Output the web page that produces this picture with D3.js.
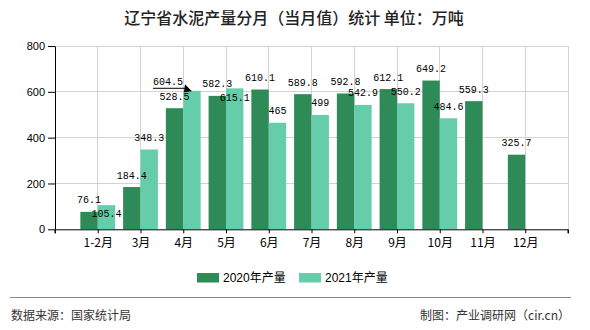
<!DOCTYPE html>
<html>
<head>
<meta charset="utf-8">
<script src="https://cdn.jsdelivr.net/npm/d3@7"></script>
<style>
  html, body { margin: 0; padding: 0; background: #fff; }
  svg { display: block; }
</style>
</head>
<body>
<svg id="chart" width="590" height="330"></svg>
<script>
// ---- data ----
const categories = ["1-2月", "3月", "4月", "5月", "6月", "7月", "8月", "9月", "10月", "11月", "12月"];
const seriesNames = ["2020年产量", "2021年产量"];
const values2020 = [76.1, 184.4, 528.5, 582.3, 610.1, 589.8, 592.8, 612.1, 649.2, 559.3, 325.7];
const values2021 = [105.4, 348.3, 604.5, 615.1, 465, 499, 542.9, 550.2, 484.6, null, null];
const yTicks = [0, 200, 400, 600, 800];
const titleText = "辽宁省水泥产量分月（当月值）统计 单位：万吨";
const sourceText = "数据来源：国家统计局";
const creditText = "制图：产业调研网（cir.cn）";

// ---- layout / style ----
const colors = ["#2e8b57", "#66cdaa"];
const plot = { left: 55, right: 568, top: 46, bottom: 229.3 };
const barW = 17.4;
// label nudges (series index, category index) -> [dx, dy]
const labelNudge = { "1-0": [0, 20], "1-3": [0, 21], "1-2": [-24, 2.5] };

const svg = d3.select("#chart");

const x = d3.scalePoint().domain(categories).range([plot.left, plot.right]).padding(1);
const inner = d3.scaleBand().domain([0, 1]).range([-barW, barW]);
const y = d3.scaleLinear().domain([0, 800]).range([plot.bottom, plot.top]);

// title
svg.append("text")
  .attr("x", 294).attr("y", 24)
  .attr("text-anchor", "middle")
  .attr("font-family", "'Noto Sans CJK SC', sans-serif")
  .attr("font-size", 16).attr("font-weight", 500)
  .attr("fill", "#222")
  .text(titleText);

// grid
const gridX = [plot.left, ...categories.map(c => x(c)), plot.right];
svg.append("g").selectAll("line").data(gridX.slice(1)).join("line")
  .attr("x1", d => d).attr("x2", d => d)
  .attr("y1", plot.top).attr("y2", plot.bottom)
  .attr("stroke", "#d3d3d3").attr("stroke-width", 1).attr("shape-rendering", "crispEdges");
svg.append("g").selectAll("line").data(yTicks.slice(1)).join("line")
  .attr("x1", plot.left).attr("x2", plot.right)
  .attr("y1", d => y(d)).attr("y2", d => y(d))
  .attr("stroke", "#d3d3d3").attr("stroke-width", 1).attr("shape-rendering", "crispEdges");

// bars
const allSeries = [values2020, values2021];
allSeries.forEach((vals, si) => {
  svg.append("g").selectAll("rect")
    .data(categories.map((c, i) => ({ c, v: vals[i] })).filter(d => d.v != null))
    .join("rect")
    .attr("x", d => x(d.c) + inner(si))
    .attr("width", inner.bandwidth())
    .attr("y", d => y(d.v))
    .attr("height", d => y(0) - y(d.v))
    .attr("fill", colors[si]);
});

// axes
const yAxis = svg.append("g")
  .attr("transform", `translate(${plot.left},0)`)
  .call(d3.axisLeft(y).tickValues(yTicks).tickSize(7).tickPadding(3).tickSizeOuter(0));
yAxis.selectAll("text").attr("font-family", "'Liberation Sans', Arial, sans-serif").attr("font-size", 11).attr("fill", "#000");
yAxis.select(".domain").attr("stroke", "#000");
yAxis.selectAll(".tick line").attr("stroke", "#000");

const xAxis = svg.append("g")
  .attr("transform", `translate(0,${plot.bottom})`)
  .call(d3.axisBottom(x).tickSize(4).tickPadding(5).tickSizeOuter(4));
xAxis.selectAll("text").attr("font-family", "'Noto Sans CJK SC', sans-serif").attr("font-size", 12).attr("fill", "#000");
xAxis.select(".domain").attr("stroke", "#000");
xAxis.selectAll(".tick line").attr("stroke", "#000");
// edge ticks
xAxis.append("g").selectAll("line").data([plot.left, plot.right]).join("line")
  .attr("x1", d => d).attr("x2", d => d).attr("y1", 0).attr("y2", 4)
  .attr("stroke", "#000");

// value labels
allSeries.forEach((vals, si) => {
  svg.append("g").selectAll("text")
    .data(categories.map((c, i) => ({ c, v: vals[i], i })).filter(d => d.v != null))
    .join("text")
    .attr("x", d => x(d.c) + inner(si) + inner.bandwidth() / 2 + ((labelNudge[si + "-" + d.i] || [0, 0])[0]))
    .attr("y", d => y(d.v) - 8.5 + ((labelNudge[si + "-" + d.i] || [0, 0])[1]))
    .attr("text-anchor", "middle")
    .attr("font-family", "'Liberation Mono', 'DejaVu Sans Mono', monospace")
    .attr("font-size", 10)
    .attr("fill", "#000")
    .text(d => String(d.v));
});

// leader arrow for the nudged label (4月 2021)
{
  const ci = 2, si = 1;
  const bx = x(categories[ci]) + inner(si) + inner.bandwidth() / 2;
  const by = y(allSeries[si][ci]);
  const lx0 = bx - 39, ly = by - 2.5;
  svg.append("line")
    .attr("x1", lx0).attr("x2", bx - 6).attr("y1", ly).attr("y2", ly)
    .attr("stroke", "#000").attr("stroke-width", 1);
  svg.append("path")
    .attr("d", `M${bx - 7},${ly - 4} L${bx},${by + 0.5} L${bx - 8},${by + 1.5} Z`)
    .attr("fill", "#000");
}

// legend
const legend = svg.append("g").attr("transform", "translate(197,273)");
const legX = [0, 102];
seriesNames.forEach((name, si) => {
  const g = legend.append("g").attr("transform", `translate(${legX[si]},0)`);
  g.append("rect").attr("width", 22).attr("height", 9.5).attr("fill", colors[si]);
  g.append("text").attr("x", 26).attr("y", 9)
    .attr("font-family", "'Liberation Sans', 'Noto Sans CJK SC', sans-serif")
    .attr("font-size", 12).attr("fill", "#000")
    .text(name);
});

// footer
svg.append("line").attr("x1", 10).attr("x2", 571).attr("y1", 297.5).attr("y2", 297.5)
  .attr("stroke", "#888").attr("stroke-width", 1);
svg.append("text").attr("x", 11).attr("y", 320)
  .attr("font-family", "'Noto Sans CJK SC', sans-serif").attr("font-size", 12).attr("fill", "#333")
  .text(sourceText);
svg.append("text").attr("x", 570).attr("y", 320).attr("text-anchor", "end")
  .attr("font-family", "'Noto Sans CJK SC', sans-serif").attr("font-size", 12).attr("fill", "#333")
  .text(creditText);
</script>
</body>
</html>
